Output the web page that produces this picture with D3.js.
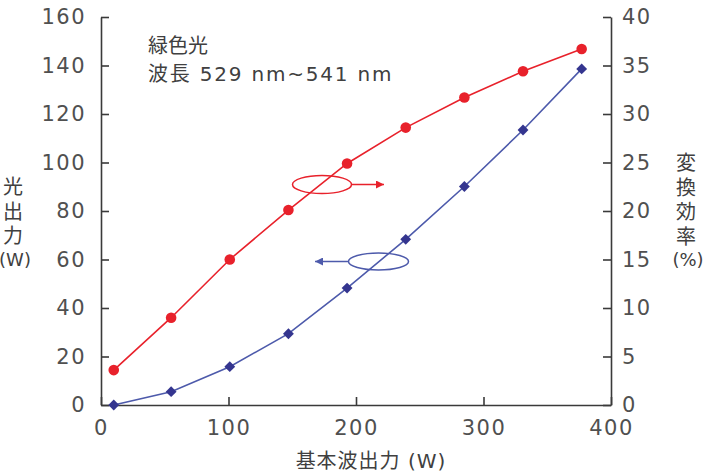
<!DOCTYPE html>
<html>
<head>
<meta charset="utf-8">
<script src="https://cdn.jsdelivr.net/npm/d3@7"></script>
<style>
  body { margin: 0; background: #fff; }
  text { font-family: "DejaVu Sans", "Noto Sans CJK JP", sans-serif; }
</style>
</head>
<body>
<svg id="chart" width="708" height="473"></svg>
<script>
// fundamental wave output (W)
var inputPower = [10, 55, 101, 147, 193, 239, 285, 331, 377];
// green light output (W) -> left axis
var greenOutput = [0, 5.5, 15.8, 29.4, 48.2, 68.3, 90.1, 113.4, 138.6];
// conversion efficiency (%) -> right axis
var efficiency = [3.6, 9.0, 15.0, 20.1, 24.9, 28.6, 31.7, 34.4, 36.7];

var xTicks = [0, 100, 200, 300, 400];
var leftTicks = [0, 20, 40, 60, 80, 100, 120, 140, 160];
var rightTicks = [0, 5, 10, 15, 20, 25, 30, 35, 40];

var svg = d3.select("#chart");
var plotLeft = 101, plotRight = 611, plotTop = 17, plotBottom = 405;

var x = d3.scaleLinear().domain([0, 400]).range([plotLeft, plotRight]);
var yL = d3.scaleLinear().domain([0, 160]).range([plotBottom, plotTop]);
var yR = d3.scaleLinear().domain([0, 40]).range([plotBottom, plotTop]);

var red = "#e8212b", blue = "#34358f", blueLine = "#4d5aab";
var axisColor = "#3a3a3a", labelColor = "#505050", textColor = "#404040";

// axes, ticks pointing inwards
var gx = svg.append("g").attr("transform", "translate(0," + plotBottom + ")")
  .call(d3.axisBottom(x).tickValues(xTicks).tickSize(-8).tickSizeOuter(0).tickPadding(15));
var gl = svg.append("g").attr("transform", "translate(" + plotLeft + ",0)")
  .call(d3.axisLeft(yL).tickValues(leftTicks).tickSize(-8).tickSizeOuter(0).tickPadding(15));
var gr = svg.append("g").attr("transform", "translate(" + plotRight + ",0)")
  .call(d3.axisRight(yR).tickValues(rightTicks).tickSize(-8).tickSizeOuter(0).tickPadding(11));

[gx, gl, gr].forEach(function(g) {
  g.selectAll("path.domain").attr("stroke", axisColor).attr("stroke-width", 1.6);
  g.selectAll(".tick line").attr("stroke", axisColor).attr("stroke-width", 1.6);
  g.selectAll(".tick text")
    .attr("fill", labelColor)
    .style("font-family", "'DejaVu Sans', sans-serif")
    .style("font-size", "21px")
    .style("font-weight", "normal")
    .attr("letter-spacing", "1.5px");
});
gx.selectAll(".tick text").attr("dy", "0.7em");

// lines
var lineGreen = d3.line().x(function(d, i) { return x(inputPower[i]); }).y(function(d) { return yL(d); });
var lineEff = d3.line().x(function(d, i) { return x(inputPower[i]); }).y(function(d) { return yR(d); });

svg.append("path").datum(efficiency).attr("d", lineEff)
  .attr("fill", "none").attr("stroke", red).attr("stroke-width", 1.6);
svg.append("path").datum(greenOutput).attr("d", lineGreen)
  .attr("fill", "none").attr("stroke", blueLine).attr("stroke-width", 1.6);

svg.selectAll(".pt-red").data(efficiency).enter().append("circle")
  .attr("cx", function(d, i) { return x(inputPower[i]); })
  .attr("cy", function(d) { return yR(d); })
  .attr("r", 5.3).attr("fill", red);

svg.selectAll(".pt-blue").data(greenOutput).enter().append("path")
  .attr("d", d3.symbol().type(d3.symbolDiamond2).size(75))
  .attr("transform", function(d, i) { return "translate(" + x(inputPower[i]) + "," + yL(d) + ")"; })
  .attr("fill", blue);

// ellipses with arrows showing which axis each series uses
var defs = svg.append("defs");
function marker(id, color) {
  defs.append("marker").attr("id", id).attr("viewBox", "0 0 10 10")
    .attr("refX", 10).attr("refY", 5).attr("markerWidth", 12).attr("markerHeight", 8)
    .attr("markerUnits", "userSpaceOnUse").attr("orient", "auto")
    .append("path").attr("d", "M0,0L10,5L0,10Z").attr("fill", color);
}
marker("arrRed", red);
marker("arrBlue", blueLine);

svg.append("ellipse").attr("cx", 322).attr("cy", 184.5).attr("rx", 29.5).attr("ry", 9)
  .attr("fill", "none").attr("stroke", red).attr("stroke-width", 1.5);
svg.append("line").attr("x1", 351.5).attr("y1", 184.5).attr("x2", 384).attr("y2", 184.5)
  .attr("stroke", red).attr("stroke-width", 1.5).attr("marker-end", "url(#arrRed)");

svg.append("ellipse").attr("cx", 378.5).attr("cy", 261.5).attr("rx", 30).attr("ry", 8.5)
  .attr("fill", "none").attr("stroke", blueLine).attr("stroke-width", 1.5);
svg.append("line").attr("x1", 348.5).attr("y1", 261.5).attr("x2", 315).attr("y2", 261.5)
  .attr("stroke", blueLine).attr("stroke-width", 1.5).attr("marker-end", "url(#arrBlue)");

// annotation
svg.append("text").attr("x", 148).attr("y", 53).attr("fill", textColor)
  .style("font-size", "20px").text("緑色光");
svg.append("text").attr("x", 148).attr("y", 81).attr("fill", textColor)
  .style("font-size", "20px").attr("letter-spacing", "1.8px").text("波長 529 nm~541 nm");

// axis titles (vertical, one character per line)
function vertical(chars, cx, y0, step) {
  chars.forEach(function(c, i) {
    svg.append("text").attr("x", cx).attr("y", y0 + i * step)
      .attr("text-anchor", "middle").attr("dominant-baseline", "central")
      .attr("fill", textColor).style("font-size", "20px").text(c);
  });
}
vertical(["光", "出", "力"], 13, 187, 24.5);
svg.append("text").attr("x", 15).attr("y", 259).attr("text-anchor", "middle")
  .attr("dominant-baseline", "central").attr("fill", textColor).style("font-size", "18px").text("(W)");

vertical(["変", "換", "効", "率"], 686, 163, 24.5);
svg.append("text").attr("x", 688).attr("y", 259).attr("text-anchor", "middle")
  .attr("dominant-baseline", "central").attr("fill", textColor).style("font-size", "18px").text("(%)");

svg.append("text").attr("x", 371).attr("y", 461).attr("text-anchor", "middle")
  .attr("dominant-baseline", "central").attr("fill", textColor).style("font-size", "20px")
  .attr("letter-spacing", "1px").text("基本波出力 (W)");
</script>
</body>
</html>
